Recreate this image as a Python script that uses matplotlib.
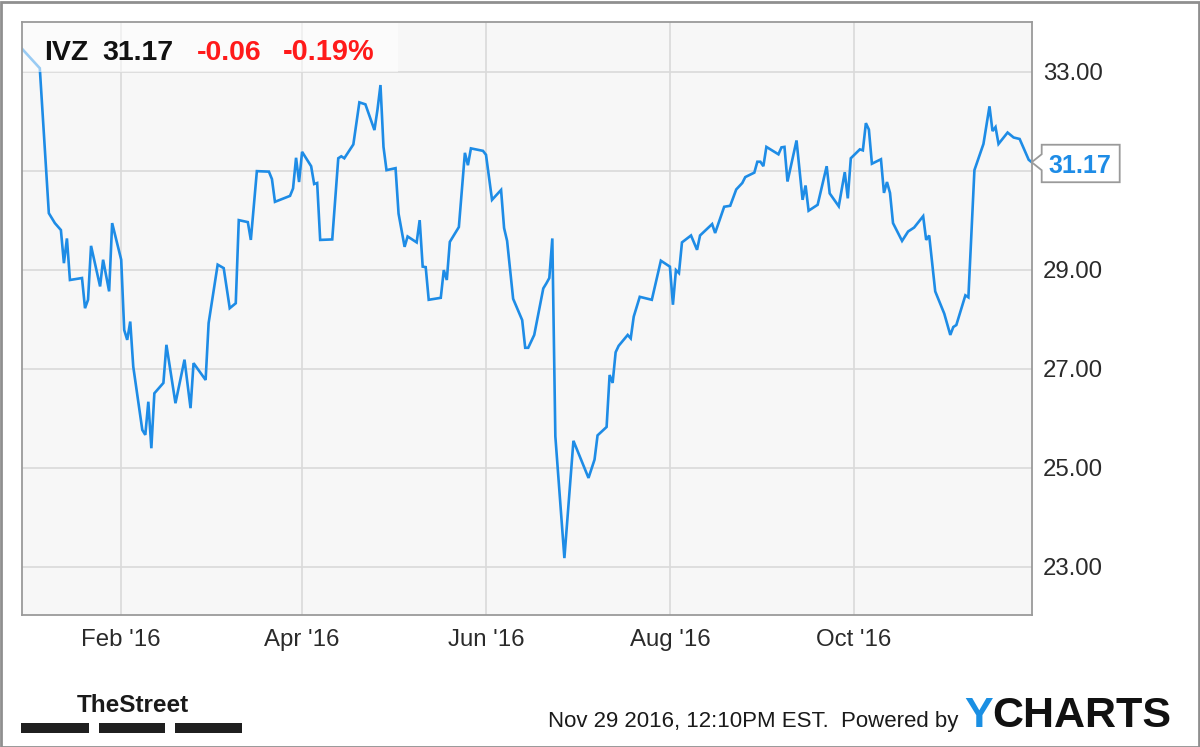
import matplotlib
matplotlib.use("Agg")
import matplotlib.pyplot as plt
import matplotlib.dates as mdates
from matplotlib.patches import Rectangle, Polygon
import pandas as pd

# ---------------- data ----------------
ticker = "IVZ"
last_price_text = "31.17"
change_text = "-0.06"
change_pct_text = "-0.19%"

dates = [
    "2015-12-30", "2016-01-05", "2016-01-08", "2016-01-10", "2016-01-12", "2016-01-13",
    "2016-01-14", "2016-01-15", "2016-01-19", "2016-01-20", "2016-01-21", "2016-01-22",
    "2016-01-25", "2016-01-26", "2016-01-28", "2016-01-29", "2016-02-01", "2016-02-02",
    "2016-02-03", "2016-02-04", "2016-02-05", "2016-02-08", "2016-02-09", "2016-02-10",
    "2016-02-11", "2016-02-12", "2016-02-15", "2016-02-16", "2016-02-19", "2016-02-22",
    "2016-02-24", "2016-02-25", "2016-02-29", "2016-03-01", "2016-03-04", "2016-03-06",
    "2016-03-08", "2016-03-10", "2016-03-11", "2016-03-14", "2016-03-15", "2016-03-17",
    "2016-03-21", "2016-03-22", "2016-03-23", "2016-03-28", "2016-03-29", "2016-03-30",
    "2016-03-31", "2016-04-01", "2016-04-04", "2016-04-05", "2016-04-06", "2016-04-07",
    "2016-04-11", "2016-04-13", "2016-04-14", "2016-04-15", "2016-04-18", "2016-04-20",
    "2016-04-22", "2016-04-25", "2016-04-26", "2016-04-27", "2016-04-28", "2016-04-29",
    "2016-05-02", "2016-05-03", "2016-05-05", "2016-05-06", "2016-05-09", "2016-05-10",
    "2016-05-11", "2016-05-12", "2016-05-13", "2016-05-17", "2016-05-18", "2016-05-19",
    "2016-05-20", "2016-05-23", "2016-05-25", "2016-05-26", "2016-05-27", "2016-05-31",
    "2016-06-01", "2016-06-03", "2016-06-06", "2016-06-07", "2016-06-08", "2016-06-10",
    "2016-06-13", "2016-06-14", "2016-06-15", "2016-06-17", "2016-06-20", "2016-06-21",
    "2016-06-22", "2016-06-23", "2016-06-24", "2016-06-27", "2016-06-30", "2016-07-05",
    "2016-07-07", "2016-07-08", "2016-07-11", "2016-07-12", "2016-07-13", "2016-07-14",
    "2016-07-15", "2016-07-18", "2016-07-19", "2016-07-20", "2016-07-22", "2016-07-26",
    "2016-07-29", "2016-08-01", "2016-08-02", "2016-08-03", "2016-08-04", "2016-08-05",
    "2016-08-08", "2016-08-10", "2016-08-11", "2016-08-15", "2016-08-16", "2016-08-19",
    "2016-08-21", "2016-08-23", "2016-08-25", "2016-08-26", "2016-08-29", "2016-08-30",
    "2016-08-31", "2016-09-01", "2016-09-02", "2016-09-06", "2016-09-07", "2016-09-08",
    "2016-09-09", "2016-09-12", "2016-09-14", "2016-09-15", "2016-09-16", "2016-09-19",
    "2016-09-22", "2016-09-23", "2016-09-26", "2016-09-28", "2016-09-29", "2016-09-30",
    "2016-10-03", "2016-10-04", "2016-10-05", "2016-10-06", "2016-10-07", "2016-10-10",
    "2016-10-11", "2016-10-12", "2016-10-13", "2016-10-14", "2016-10-17", "2016-10-19",
    "2016-10-21", "2016-10-24", "2016-10-25", "2016-10-26", "2016-10-28", "2016-10-31",
    "2016-11-02", "2016-11-03", "2016-11-04", "2016-11-07", "2016-11-08", "2016-11-10",
    "2016-11-13", "2016-11-15", "2016-11-16", "2016-11-17", "2016-11-18", "2016-11-21",
    "2016-11-23", "2016-11-25", "2016-11-28", "2016-11-29",
]

prices = [
    33.47, 33.07, 30.14, 29.94, 29.80, 29.13,
    29.63, 28.79, 28.83, 28.22, 28.39, 29.48,
    28.66, 29.20, 28.56, 29.94, 29.20, 27.78,
    27.58, 27.95, 27.04, 25.76, 25.66, 26.33,
    25.39, 26.50, 26.71, 27.48, 26.30, 27.18,
    26.20, 27.11, 26.77, 27.92, 29.10, 29.03,
    28.22, 28.32, 30.00, 29.96, 29.60, 30.99,
    30.98, 30.83, 30.37, 30.49, 30.64, 31.26,
    30.77, 31.38, 31.09, 30.73, 30.75, 29.60,
    29.61, 31.25, 31.29, 31.25, 31.53, 32.38,
    32.34, 31.82, 32.23, 32.73, 31.48, 31.01,
    31.05, 30.13, 29.46, 29.67, 29.55, 30.00,
    29.06, 29.05, 28.39, 28.43, 28.99, 28.79,
    29.56, 29.86, 31.36, 31.11, 31.45, 31.40,
    31.32, 30.41, 30.61, 29.84, 29.58, 28.41,
    27.98, 27.42, 27.42, 27.68, 28.62, 28.72,
    28.83, 29.63, 25.63, 23.17, 25.54, 24.79,
    25.16, 25.65, 25.82, 26.87, 26.71, 27.33,
    27.46, 27.68, 27.61, 28.05, 28.45, 28.39,
    29.18, 29.06, 28.29, 28.99, 28.93, 29.55,
    29.69, 29.40, 29.69, 29.92, 29.74, 30.27,
    30.29, 30.62, 30.75, 30.87, 30.96, 31.18,
    31.18, 31.09, 31.48, 31.33, 31.47, 31.48,
    30.78, 31.61, 30.41, 30.70, 30.19, 30.31,
    31.09, 30.54, 30.28, 30.97, 30.44, 31.25,
    31.43, 31.41, 31.96, 31.83, 31.14, 31.23,
    30.55, 30.77, 30.55, 29.94, 29.58, 29.77,
    29.85, 30.08, 29.60, 29.69, 28.56, 28.11,
    27.68, 27.84, 27.88, 28.48, 28.44, 31.01,
    31.54, 32.30, 31.80, 31.88, 31.54, 31.77,
    31.67, 31.64, 31.22, 31.17,
]

y_ticks = [23, 25, 27, 29, 31, 33]
# the 31.00 label is hidden behind the last-price callout in the reference
y_tick_labels = ["23.00", "25.00", "27.00", "29.00", "", "33.00"]
x_tick_dates = ["2016-02-01", "2016-04-01", "2016-06-01", "2016-08-01", "2016-10-01"]
x_tick_labels = ["Feb '16", "Apr '16", "Jun '16", "Aug '16", "Oct '16"]
y_limits = (22.02, 34.01)

footer_text = "Nov 29 2016, 12:10PM EST.  Powered by"
brand_left = "TheStreet"

# ---------------- style ----------------
LINE_BLUE = "#1e8ce6"
FONT = "Liberation Sans"
W, H = 1200, 747

plt.rcParams["font.family"] = [FONT, "DejaVu Sans"]

fig = plt.figure(figsize=(W / 100, H / 100), dpi=100, facecolor="white")


def fx(px):
    return px / W


def fy(py):
    return 1 - py / H


ax_l, ax_r, ax_t, ax_b = 21.7, 1031.7, 21.7, 615.0
ax = fig.add_axes([fx(ax_l), fy(ax_b), (ax_r - ax_l) / W, (ax_b - ax_t) / H])
ax.set_facecolor("#f7f7f7")

x = pd.to_datetime(dates)
ax.plot(x, prices, color=LINE_BLUE, lw=1.9, solid_joinstyle="miter", zorder=2)

ax.set_xlim(x[0], x[-1])
ax.set_ylim(*y_limits)

ax.set_xticks(pd.to_datetime(x_tick_dates))
ax.set_xticklabels(x_tick_labels)
ax.set_yticks(y_ticks)
ax.set_yticklabels(y_tick_labels)
ax.yaxis.tick_right()
ax.tick_params(axis="both", length=0, labelsize=17.3, labelcolor="#2a2a2a")
ax.tick_params(axis="x", pad=10)
ax.tick_params(axis="y", pad=8)
ax.grid(True, color="#dadada", lw=1.2)
ax.set_axisbelow(True)
for s in ax.spines.values():
    s.set_color("#9a9a9a")
    s.set_linewidth(1.3)

# translucent header box over the plot
hdr = Rectangle((0, (ax_b - 72) / (ax_b - ax_t)), (398 - ax_l) / (ax_r - ax_l),
                (72 - ax_t) / (ax_b - ax_t), transform=ax.transAxes,
                facecolor="white", alpha=0.55, edgecolor="none", zorder=2.2)
ax.add_patch(hdr)

# header texts
base = fy(60)
fig.text(fx(44), base, ticker, fontsize=20.5, fontweight="bold", color="#111111", va="baseline", zorder=6)
fig.text(fx(102), base, last_price_text, fontsize=20.5, fontweight="bold", color="#111111", va="baseline", zorder=6)
fig.text(fx(197), base, change_text, fontsize=20.5, fontweight="bold", color="#ff1a1a", va="baseline", zorder=6)
fig.text(fx(283), base, change_pct_text, fontsize=20.8, fontweight="bold", color="#ff1a1a", va="baseline", zorder=6)

# last value callout on the right
fig.canvas.draw()
tip = ax.transData.transform((mdates.date2num(x[-1]), prices[-1]))
tx, ty = tip[0], tip[1]
offs = [(0, 0), (10, 8), (10, 17.5), (88, 17.5), (88, -20), (10, -20), (10, -8)]
poly_pts = [((tx + dx) / W, (ty + dy) / H) for dx, dy in offs]
fig.add_artist(Polygon(poly_pts, closed=True, transform=fig.transFigure,
                       facecolor="white", edgecolor="#9a9a9a", lw=1.3, zorder=5))
fig.text((tx + 48) / W, (ty - 11) / H, last_price_text, fontsize=18, fontweight="bold",
         color=LINE_BLUE, ha="center", va="baseline", zorder=6)

# outer border
fig.add_artist(Rectangle((0.5 / W, 0.5 / H), 1 - 2 / W, 1 - 2 / H, transform=fig.transFigure,
                         fill=False, edgecolor="#8f8f8f", lw=2.0, zorder=10))

# footer: TheStreet logo
fig.text(fx(77), fy(712), brand_left, fontsize=17.5, fontweight="bold",
         color="#1a1a1a", va="baseline")
for x0, x1 in [(21, 89), (99, 165), (175, 242)]:
    fig.add_artist(Rectangle((fx(x0), fy(733)), (x1 - x0) / W, 10 / H,
                             transform=fig.transFigure, facecolor="#1f1f1f", edgecolor="none"))

# footer: timestamp + YCHARTS
fig.text(fx(548), fy(727), footer_text, fontsize=16, color="#1a1a1a", va="baseline")
yt = fig.text(fx(964), fy(727), "Y", fontsize=31, fontweight="bold", color="#1a8fe3", va="baseline")
ax.annotate("CHARTS", xy=(1, 0), xycoords=yt, xytext=(0, 0), textcoords="offset points",
            fontsize=31, fontweight="bold", color="#111111", ha="left", va="bottom",
            annotation_clip=False)

fig.savefig("out.png", dpi=100, facecolor="white")
